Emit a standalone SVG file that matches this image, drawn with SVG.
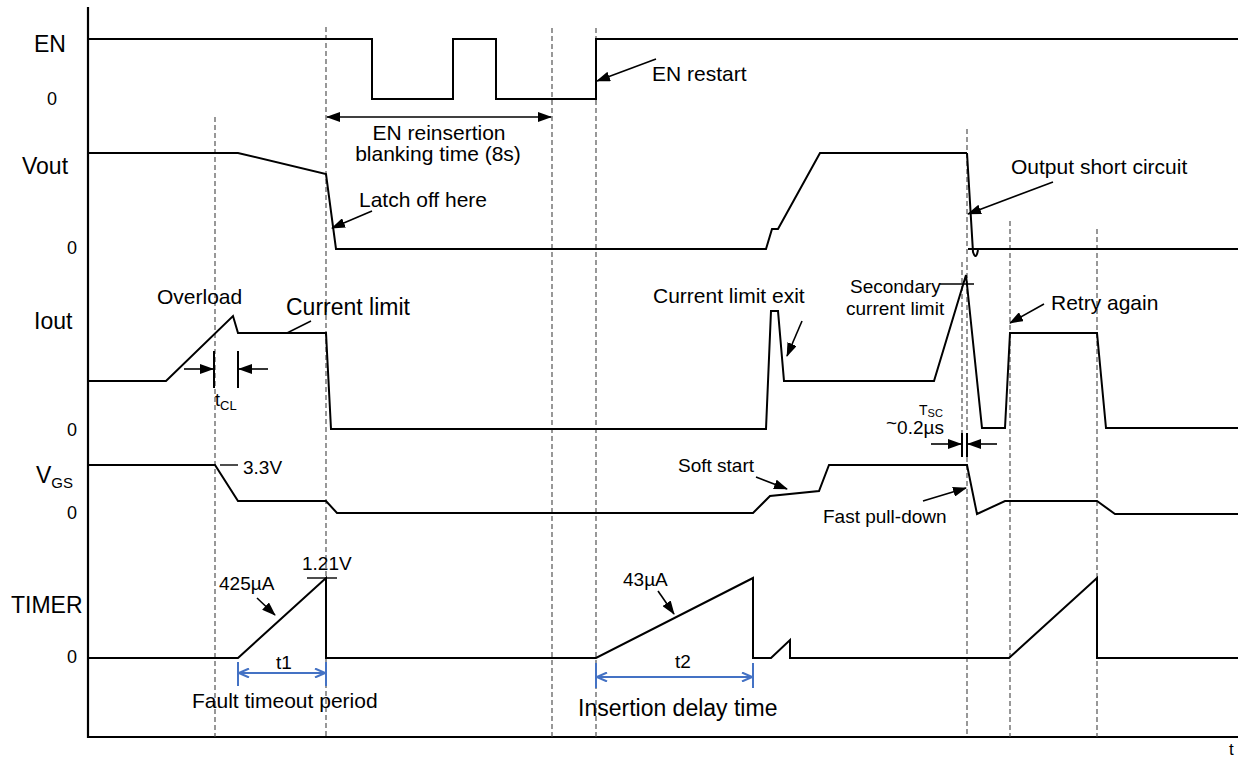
<svg xmlns="http://www.w3.org/2000/svg" width="1241" height="759" viewBox="0 0 1241 759">
<style>
text{font-family:"Liberation Sans",Arial,sans-serif;fill:#000}
.sig{fill:none;stroke:#000;stroke-width:2;stroke-linejoin:miter}
.axis{fill:none;stroke:#000;stroke-width:2.2}
.dash{fill:none;stroke:#444;stroke-width:1.1;stroke-dasharray:5,3}
.arr{fill:none;stroke:#000;stroke-width:1.6;marker-end:url(#ah)}
.arr2{fill:none;stroke:#000;stroke-width:1.4;marker-start:url(#ah);marker-end:url(#ah)}
.lead{fill:none;stroke:#000;stroke-width:1.4}
.tick{fill:none;stroke:#000;stroke-width:2}
.blue{fill:none;stroke:#4472C4;stroke-width:2}
.barr{fill:none;stroke:#4472C4;stroke-width:2;marker-start:url(#bh);marker-end:url(#bh)}
.lbl{font-size:23px}
.zero{font-size:18px}
.ann{font-size:21px}
.sm{font-size:19px}
</style>
<defs>
<marker id="ah" markerUnits="userSpaceOnUse" markerWidth="14" markerHeight="10" refX="13" refY="5" orient="auto-start-reverse"><path d="M0,0 L14,5 L0,10 z" fill="#000"/></marker>
<marker id="bh" markerUnits="userSpaceOnUse" markerWidth="12" markerHeight="10" refX="11" refY="5" orient="auto-start-reverse"><path d="M1,0.5 L11,5 L1,9.5" fill="none" stroke="#4472C4" stroke-width="2"/></marker>
</defs>

<g id="axes">
<line class="axis" x1="88" y1="7" x2="88" y2="738"/>
<line class="axis" x1="87" y1="737" x2="1238" y2="737"/>
<text x="1229" y="755" font-size="17">t</text>
</g>

<g id="guides">
<line class="dash" x1="215" y1="117" x2="215" y2="737"/>
<line class="dash" x1="326" y1="27" x2="326" y2="737"/>
<line class="dash" x1="552" y1="28" x2="552" y2="737"/>
<line class="dash" x1="596" y1="28" x2="596" y2="737"/>
<line class="dash" x1="962" y1="262" x2="962" y2="433"/>
<line class="dash" x1="967" y1="129" x2="967" y2="737"/>
<line class="dash" x1="1010" y1="221" x2="1010" y2="737"/>
<line class="dash" x1="1097" y1="229" x2="1097" y2="737"/>
</g>

<g id="EN">
<text x="34" y="52" class="lbl">EN</text>
<text x="47" y="105" class="zero">0</text>
<polyline class="sig" points="88,39 372,39 372,99 453,99 453,39 496,39 496,99 596,99 596,39 1238,39"/>
</g>

<g id="Vout">
<text x="22" y="174" class="lbl">Vout</text>
<text x="67" y="254" class="zero">0</text>
<polyline class="sig" points="88,153 238,153 326,174 336,249 766,249 772,229 778,229 820,153 967,153"/>
<path class="sig" d="M967,153 L973,252 Q976,261 978,250"/>
<line class="sig" x1="968" y1="249" x2="1238" y2="249"/>
</g>

<g id="Iout">
<text x="34" y="329" class="lbl">Iout</text>
<text x="67" y="436" class="zero">0</text>
<polyline class="sig" points="88,381 166,381 233,316 238,333 326,333 331,429 766,429 771,311 778,311 784,381 934,381 966,275 982,428 1005,428 1010,333 1097,333 1106,428 1238,428"/>
</g>

<g id="VGS">
<text x="36" y="483" class="lbl">V<tspan font-size="15" dy="5">GS</tspan></text>
<text x="67" y="519" class="zero">0</text>
<polyline class="sig" points="88,465 215,465 238,501 326,501 337,513 753,513 770,496 819,491 829,465 967,465 977,514 1005,501 1097,501 1115,514 1238,514"/>
</g>

<g id="TIMER">
<text x="11" y="613" class="lbl">TIMER</text>
<text x="67" y="663" class="zero">0</text>
<polyline class="sig" points="88,658 238,658 326,578 326,658 596,658 753,578 753,658 771,658 790,640 790,658 1009,658 1097,578 1097,658 1238,658"/>
</g>

<g id="blanking">
<text x="439" y="140" class="ann" text-anchor="middle">EN reinsertion</text>
<text x="438" y="161" class="ann" text-anchor="middle">blanking time (8s)</text>
</g>
<g id="latch"><text x="359" y="207" class="ann">Latch off here</text></g>
<g id="restart"><text x="652" y="81" class="ann">EN restart</text></g>
<g id="short"><text x="1011" y="174" class="ann">Output short circuit</text></g>
<g id="overload"><text x="157" y="304" class="ann" font-size="20.5">Overload</text></g>
<g id="climit"><text x="286" y="315" class="lbl">Current limit</text></g>
<g id="climexit"><text x="653" y="303" class="ann">Current limit exit</text></g>
<g id="secondary">
<text x="850" y="293" class="sm">Secondary</text>
<text x="846" y="315" class="sm">current limit</text>
</g>
<g id="retry"><text x="1051" y="310" class="ann">Retry again</text></g>
<g id="tcl">
<text x="215" y="406" font-size="18">t<tspan font-size="13" dy="4">CL</tspan></text>
<line class="tick" x1="214" y1="351" x2="214" y2="388"/>
<line class="tick" x1="238" y1="351" x2="238" y2="388"/>
</g>
<g id="tsc">
<text x="919" y="415" font-size="14">T<tspan font-size="11" dy="2">SC</tspan></text>
<text x="886" y="434" class="sm"><tspan dy="-5">~</tspan><tspan dy="5">0.2µs</tspan></text>
<line class="tick" x1="962" y1="433" x2="962" y2="457"/>
<line class="tick" x1="967" y1="433" x2="967" y2="457"/>
</g>
<g id="v33"><text x="243" y="474" class="sm">3.3V</text></g>
<g id="v121"><text x="302" y="570" class="sm">1.21V</text></g>
<g id="i425"><text x="219" y="590" class="sm">425µA</text></g>
<g id="i43"><text x="623" y="586" class="sm">43µA</text></g>
<g id="softstart"><text x="678" y="472" class="sm">Soft start</text></g>
<g id="pulldown"><text x="823" y="523" class="sm">Fast pull-down</text></g>
<g id="t1">
<text x="276" y="669" class="sm">t1</text>
<text x="192" y="708" class="ann">Fault timeout period</text>
<line class="blue" x1="238" y1="662" x2="238" y2="686"/>
<line class="blue" x1="326" y1="662" x2="326" y2="686"/>
</g>
<g id="t2">
<text x="675" y="668" class="sm">t2</text>
<text x="578" y="716" class="lbl">Insertion delay time</text>
<line class="blue" x1="596" y1="663" x2="596" y2="688"/>
<line class="blue" x1="753" y1="663" x2="753" y2="688"/>
</g>

<g id="connectors">
<line class="arr2" x1="327" y1="117" x2="551" y2="117"/>
<line class="arr" x1="372" y1="211" x2="332" y2="228"/>
<line class="arr" x1="656" y1="59" x2="597" y2="81"/>
<line class="arr" x1="1053" y1="182" x2="968" y2="214"/>
<line class="arr" x1="802" y1="321" x2="787" y2="356"/>
<line class="arr" x1="1044" y1="304" x2="1010" y2="323"/>
<line class="arr" x1="257" y1="598" x2="275" y2="615"/>
<line class="arr" x1="658" y1="591" x2="674" y2="614"/>
<line class="arr" x1="756" y1="477" x2="787" y2="489"/>
<line class="arr" x1="923" y1="501" x2="966" y2="488"/>
<line class="arr" x1="184" y1="369" x2="213" y2="369"/>
<line class="arr" x1="268" y1="369" x2="239" y2="369"/>
<line class="arr" x1="931" y1="444" x2="961" y2="444"/>
<line class="arr" x1="997" y1="444" x2="968" y2="444"/>
<line class="lead" x1="287" y1="333" x2="311" y2="321"/>
<line class="lead" x1="220" y1="465" x2="238" y2="465"/>
<line class="lead" x1="307" y1="578" x2="337" y2="578"/>
<line class="lead" x1="940" y1="284" x2="974" y2="284"/>
<line class="barr" x1="239" y1="673" x2="325" y2="673"/>
<line class="barr" x1="597" y1="677" x2="752" y2="677"/>
</g>
</svg>
